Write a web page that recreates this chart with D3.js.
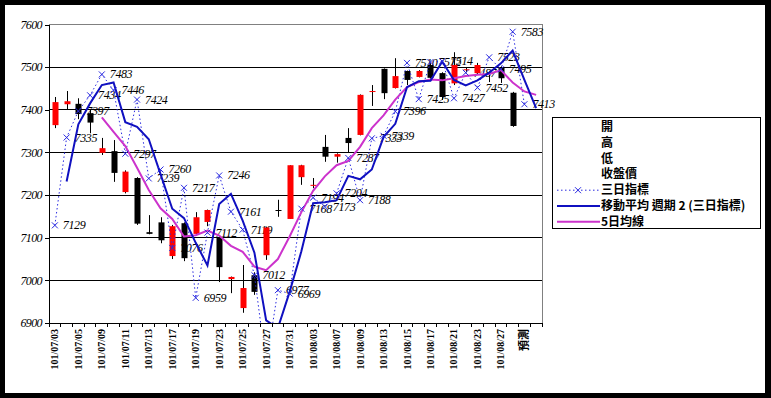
<!DOCTYPE html>
<html>
<head>
<meta charset="utf-8">
<script src="https://cdn.jsdelivr.net/npm/d3@7"></script>
<style>
  body { margin: 0; background: #000; }
  svg { display: block; }
</style>
</head>
<body>
<svg id="chart" width="771" height="398"></svg>
<script>
// categories (trading days, last is the forecast slot plus one empty slot)
let dates = ["101/07/03","101/07/04","101/07/05","101/07/06","101/07/09","101/07/10","101/07/11","101/07/12",
    "101/07/13","101/07/16","101/07/17","101/07/18","101/07/19","101/07/20","101/07/23","101/07/24",
    "101/07/25","101/07/26","101/07/27","101/07/30","101/07/31","101/08/01","101/08/03","101/08/06",
    "101/08/07","101/08/08","101/08/09","101/08/10","101/08/13","101/08/14","101/08/15","101/08/16",
    "101/08/17","101/08/20","101/08/21","101/08/22","101/08/23","101/08/24","101/08/27","101/08/28",
    "預測",""];

let opens  = [7364,7413,7414,7392,7299,7303,7207,7240,7113,7136,7057,7134,7109,7137,7101,7003,6935,7012,7059,7165,
              7144,7242,7222,7313,7290,7334,7341,7443,7496,7451,7491,7477,7505,7486,7462,7494,7486,7487,7500,7440];
let highs  = [7430,7444,7427,7402,7334,7329,7258,7242,7153,7148,7130,7136,7160,7166,7106,7009,7036,7019,7126,7189,
              7270,7271,7240,7341,7298,7357,7436,7458,7497,7521,7492,7493,7510,7488,7535,7500,7510,7490,7502,7442];
let lows   = [7357,7400,7378,7345,7294,7231,7204,7130,7108,7087,7050,7045,7105,7127,6996,6970,6924,6966,7048,7149,
              7144,7224,7216,7278,7276,7300,7340,7409,7425,7450,7458,7476,7473,7423,7458,7488,7484,7465,7463,7360];
let closes = [7418,7420,7390,7370,7310,7252,7255,7133,7109,7094,7127,7052,7148,7165,7031,7008,6982,6973,7124,7164,
              7270,7270,7224,7290,7296,7322,7435,7444,7439,7479,7470,7491,7475,7430,7505,7495,7505,7486,7474,7362];

// 三日指標
let tri = [7129,7335,7397,7434,7483,7446,7297,7424,7239,7260,7076,7217,6959,7112,7246,7161,7119,7012,6800,6977,
           6969,7168,7194,7173,7204,7287,7188,7333,7339,7396,7510,7425,7512,7514,7427,7487,7452,7523,7495,7583,7413];

// 移動平均 週期 2 (三日指標)
let ma2 = [null,7232,7366,7415,7458,7464,7371,7360,7331,7249,7168,7146,7088,7035,7179,7203,7140,7065,6906,6888,
           6973,7068,7181,7183,7188,7245,7237,7260,7336,7367,7453,7467,7468,7513,7470,7457,7469,7487,7509,7539,7470,7404];

// 5日均線
let ma5 = [null,null,null,null,7382,7348,7315,7264,7212,7169,7144,7103,7106,7117,7105,7081,7067,7032,7024,7050,
           7103,7160,7210,7244,7270,7280,7313,7357,7387,7424,7453,7465,7471,7469,7474,7479,7482,7484,7493,7464,7443,7435];

let yTicks = [6900,7000,7100,7200,7300,7400,7500,7600];

let legendItems = ["開","高","低","收盤價","三日指標","移動平均  週期 2 (三日指標)","5日均線"];

let svg = d3.select("#chart");
svg.append("rect").attr("x", 5).attr("y", 5).attr("width", 760).attr("height", 388).attr("fill", "#fff");

let pl = 49, pr = 542, pt = 24.5, pb = 323;

let x = d3.scaleBand()
    .domain(d3.range(dates.length))
    .range([pl, pr]);

let y = d3.scaleLinear()
    .domain([6900, 7600])
    .range([pb, pt]);

let cx = function (i) { return x(i) + x.bandwidth() / 2; };

svg.append("defs").append("clipPath").attr("id", "plot")
    .append("rect").attr("x", pl).attr("y", pt).attr("width", pr - pl).attr("height", pb - pt);

// gridlines
svg.append("g")
    .selectAll("line")
    .data(yTicks.filter(function (d) { return d > 6900 && d < 7600; }))
    .join("line")
    .attr("x1", pl).attr("x2", pr)
    .attr("y1", function (d) { return y(d); }).attr("y2", function (d) { return y(d); })
    .attr("stroke", "#000").attr("shape-rendering", "crispEdges");

// plot border (top, right)
svg.append("path")
    .attr("d", "M" + pl + "," + y(7600) + "H" + pr + "V" + pb)
    .attr("fill", "none").attr("stroke", "#808080").attr("shape-rendering", "crispEdges");

// y axis
let yAxis = svg.append("g")
    .attr("transform", "translate(" + pl + ",0)")
    .call(d3.axisLeft(y).tickValues(yTicks).tickSize(4).tickPadding(3).tickFormat(d3.format("d")));
yAxis.selectAll("path, line").attr("stroke", "#000").attr("shape-rendering", "crispEdges");
yAxis.selectAll("text")
    .attr("font-family", "Liberation Serif").attr("font-style", "italic")
    .attr("font-size", 12).attr("letter-spacing", -0.6).attr("fill", "#000");

// x axis
let xAxis = svg.append("g")
    .attr("transform", "translate(0," + pb + ")")
    .call(d3.axisBottom(x).tickSize(0).tickFormat(function (i) { return i % 2 === 0 ? dates[i] : ""; }));
xAxis.select("path").attr("stroke", "#000").attr("shape-rendering", "crispEdges");
xAxis.selectAll("text")
    .attr("font-family", "Liberation Serif").attr("font-weight", "bold")
    .attr("font-size", 10).attr("fill", "#000")
    .attr("text-anchor", "end")
    .attr("dy", "0.35em")
    .attr("transform", "translate(0,6) rotate(-90)")
    .attr("x", 0).attr("y", 0);
xAxis.selectAll(".tick").filter(function (i) { return dates[i] === "預測"; }).select("text")
    .attr("font-family", "Noto Sans CJK TC").attr("font-size", 11);
// category boundary ticks
svg.append("g")
    .selectAll("line")
    .data(d3.range(dates.length + 1))
    .join("line")
    .attr("x1", function (i) { return pl + i * x.step(); })
    .attr("x2", function (i) { return pl + i * x.step(); })
    .attr("y1", pb).attr("y2", pb + 4)
    .attr("stroke", "#000").attr("shape-rendering", "crispEdges");

// data labels of 三日指標 (drawn under candles, only those inside the value range)
let labels = svg.append("g");
labels.selectAll("text")
    .data(tri.map(function (v, i) { return { v: v, i: i }; })
        .filter(function (d) { return d.v >= 6900 && d.v <= 7600; }))
    .join("text")
    .attr("x", function (d) { return cx(d.i) + 8; })
    .attr("y", function (d) { return y(d.v) + 4; })
    .attr("font-family", "Liberation Serif").attr("font-style", "italic")
    .attr("font-size", 12).attr("letter-spacing", -0.4).attr("fill", "#000")
    .text(function (d) { return d.v; });

// candlesticks
let candles = svg.append("g").attr("clip-path", "url(#plot)");
let bw = 6;
candles.selectAll("line")
    .data(opens)
    .join("line")
    .attr("x1", function (d, i) { return Math.round(cx(i)) + 0.5; })
    .attr("x2", function (d, i) { return Math.round(cx(i)) + 0.5; })
    .attr("y1", function (d, i) { return y(highs[i]); })
    .attr("y2", function (d, i) { return y(lows[i]); })
    .attr("stroke", "#000");
candles.selectAll("rect")
    .data(opens)
    .join("rect")
    .attr("x", function (d, i) { return Math.round(cx(i)) + 0.5 - bw / 2; })
    .attr("y", function (d, i) { return y(Math.max(opens[i], closes[i])); })
    .attr("width", bw)
    .attr("height", function (d, i) { return Math.max(1, Math.abs(y(opens[i]) - y(closes[i]))); })
    .attr("fill", function (d, i) { return closes[i] > opens[i] ? "#ff0000" : "#000"; });

// lines
let lines = svg.append("g").attr("clip-path", "url(#plot)");
let lineGen = d3.line()
    .defined(function (d) { return d != null; })
    .x(function (d, i) { return cx(i); })
    .y(function (d) { return y(d); });

lines.append("path").datum(tri).attr("d", lineGen)
    .attr("fill", "none").attr("stroke", "#2a2ae0").attr("stroke-width", 1).attr("stroke-dasharray", "1.5,2.5");
lines.append("path").datum(ma5).attr("d", lineGen)
    .attr("fill", "none").attr("stroke", "#cc33cc").attr("stroke-width", 2);
lines.append("path").datum(ma2).attr("d", lineGen)
    .attr("fill", "none").attr("stroke", "#1010c0").attr("stroke-width", 2);

let cross = "M-3,-3L3,3M-3,3L3,-3";
lines.selectAll(".mk")
    .data(tri)
    .join("path")
    .attr("class", "mk")
    .attr("transform", function (d, i) { return "translate(" + cx(i) + "," + y(d) + ")"; })
    .attr("d", cross)
    .attr("stroke", "#2a2ae0").attr("stroke-width", 1).attr("fill", "none");

// legend
let lg = svg.append("g").attr("transform", "translate(552,117)");
lg.append("rect").attr("x", 0.5).attr("y", 0.5).attr("width", 208).attr("height", 111)
    .attr("fill", "#fff").attr("stroke", "#000");
lg.selectAll("text")
    .data(legendItems)
    .join("text")
    .attr("x", 49)
    .attr("y", function (d, i) { return 14 + i * 15.8; })
    .attr("font-family", "Noto Sans CJK TC").attr("font-weight", "bold")
    .attr("font-size", 12).attr("fill", "#000")
    .text(function (d) { return d; });
let ly = function (i) { return 10 + i * 15.8; };
lg.append("line").attr("x1", 5).attr("x2", 48).attr("y1", ly(4)).attr("y2", ly(4))
    .attr("stroke", "#2a2ae0").attr("stroke-dasharray", "1.5,2.5");
lg.append("path").attr("d", cross).attr("transform", "translate(26," + ly(4) + ")")
    .attr("stroke", "#2a2ae0").attr("fill", "none");
lg.append("line").attr("x1", 5).attr("x2", 48).attr("y1", ly(5)).attr("y2", ly(5))
    .attr("stroke", "#1010c0").attr("stroke-width", 2);
lg.append("line").attr("x1", 5).attr("x2", 48).attr("y1", ly(6)).attr("y2", ly(6))
    .attr("stroke", "#cc33cc").attr("stroke-width", 2);
</script>
</body>
</html>
